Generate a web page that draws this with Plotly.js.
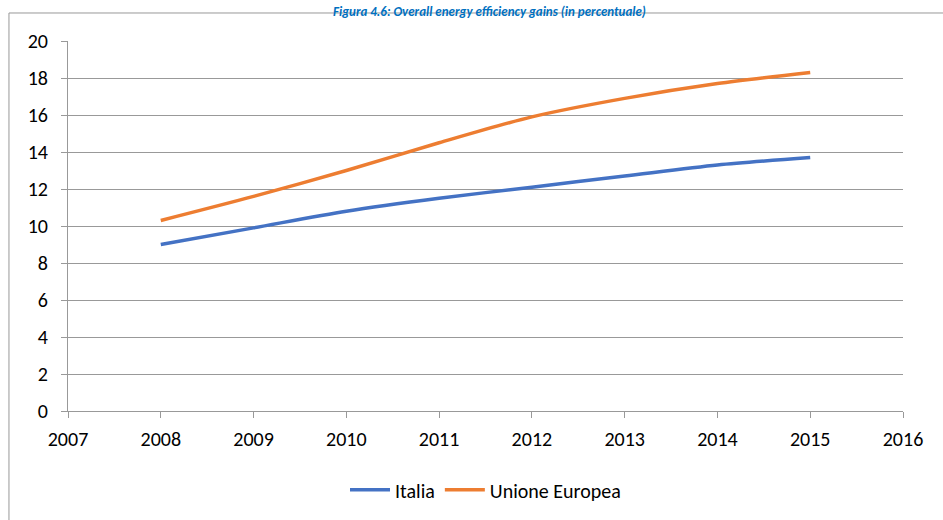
<!DOCTYPE html>
<html>
<head>
<meta charset="utf-8">
<script src="https://cdn.plot.ly/plotly-3.0.1.min.js"></script>
<style>html,body{margin:0;padding:0;background:#fff;}#chart{width:943px;height:520px;}</style>
</head>
<body>
<div id="chart"></div>
<script>
const years = [2008, 2009, 2010, 2011, 2012, 2013, 2014, 2015];
const italia = [9.0, 9.9, 10.8, 11.5, 12.1, 12.7, 13.3, 13.7];
const unioneEuropea = [10.3, 11.6, 13.0, 14.5, 15.9, 16.9, 17.7, 18.3];
const seriesNames = ["Italia", "Unione Europea"];
const titleText = "Figura 4.6: Overall energy efficiency gains (in percentuale)";

const font = "Carlito, Calibri, 'Liberation Sans Narrow', 'Open Sans', sans-serif";

const traces = [
  {x: years, y: italia, name: seriesNames[0], type: "scatter", mode: "lines",
   line: {color: "#4472C4", width: 3.5, shape: "spline", smoothing: 0.8}},
  {x: years, y: unioneEuropea, name: seriesNames[1], type: "scatter", mode: "lines",
   line: {color: "#ED7D31", width: 3.5, shape: "spline", smoothing: 0.8}}
];

const layout = {
  width: 943, height: 520,
  margin: {l: 68, r: 40, t: 41, b: 109, pad: 0, autoexpand: false},
  paper_bgcolor: "#fff", plot_bgcolor: "#fff",
  font: {family: font, size: 20, color: "#000"},
  showlegend: true,
  legend: {orientation: "h", x: 0.5, xanchor: "center", y: -0.16, yanchor: "top",
           font: {family: font, size: 20, color: "#000"}, traceorder: "normal", itemwidth: 40},
  xaxis: {range: [2007, 2016], dtick: 1, tick0: 2007, tickmode: "linear",
          showgrid: false, zeroline: false, showline: true, linecolor: "#999", linewidth: 1,
          ticks: "outside", ticklen: 6, tickcolor: "#999", tickfont: {size: 20},
          ticklabelstandoff: 4},
  yaxis: {range: [0, 20], dtick: 2, tick0: 0, tickmode: "linear",
          showgrid: true, gridcolor: "#999", gridwidth: 1, zeroline: false,
          showline: true, linecolor: "#999", linewidth: 1,
          ticks: "outside", ticklen: 6, tickcolor: "#999", tickfont: {size: 20},
          ticklabelstandoff: 9},
  shapes: [
    {type: "rect", xref: "paper", yref: "paper", x0: -0.0707, x1: 1.2, y0: -0.5, y1: 1.0757,
     line: {color: "#999", width: 1}, fillcolor: "rgba(0,0,0,0)", layer: "below"}
  ],
  annotations: [
    {text: "<b><i>" + titleText + "</i></b>", xref: "paper", yref: "paper",
     x: 0.505, y: 1.1055, xanchor: "center", yanchor: "top", showarrow: false,
     font: {family: font, size: 13, color: "#0070C0"}}
  ]
};

Plotly.newPlot("chart", traces, layout, {displayModeBar: false, staticPlot: true});
</script>
</body>
</html>
